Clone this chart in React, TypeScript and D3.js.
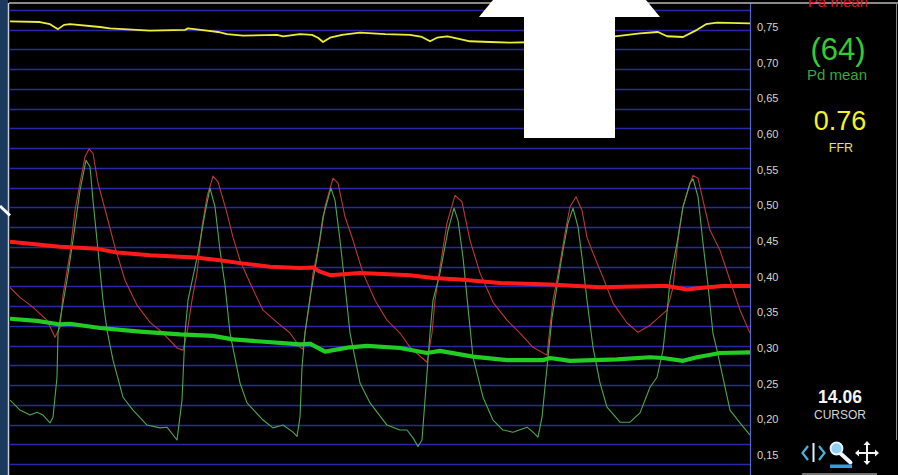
import React, { useEffect, useRef } from "react";
import * as d3 from "d3";

type Pt = [number, number];

// right-hand ratio axis
const ratioTicks = [0.15, 0.2, 0.25, 0.3, 0.35, 0.4, 0.45, 0.5, 0.55, 0.6, 0.65, 0.7, 0.75];
// background grid, one line per 10 mmHg
const gridMmHg = [0, 10, 20, 30, 40, 50, 60, 70, 80, 90, 100, 110, 120, 130, 140, 150, 160, 170, 180, 190, 200, 210, 220, 230];

// [time s, value on ratio axis]
const ffrTrace: Pt[] = [
  [0, 0.758], [0.3, 0.757], [0.4, 0.754], [0.48, 0.747], [0.54, 0.753], [0.6, 0.754],
  [0.9, 0.75], [1.0, 0.748], [1.4, 0.745], [1.75, 0.746], [1.78, 0.748], [1.97, 0.745],
  [2.08, 0.743], [2.17, 0.74], [2.33, 0.738], [2.67, 0.739], [2.73, 0.737], [2.9, 0.74],
  [3.02, 0.739], [3.08, 0.735], [3.13, 0.729], [3.2, 0.735], [3.32, 0.739], [3.5, 0.742],
  [3.75, 0.74], [4.0, 0.739], [4.12, 0.736], [4.2, 0.73], [4.27, 0.735], [4.37, 0.737],
  [4.4, 0.736], [4.6, 0.73], [4.8, 0.729], [5.0, 0.728], [5.3, 0.729], [5.7, 0.732],
  [6.05, 0.737], [6.3, 0.741], [6.48, 0.743], [6.57, 0.737], [6.73, 0.736], [6.87, 0.746],
  [6.96, 0.754], [7.07, 0.756], [7.4, 0.755],
];

const paMean: Pt[] = [
  [0, 0.449], [0.5, 0.442], [0.87, 0.439], [1.07, 0.434], [1.4, 0.43], [1.85, 0.427],
  [2.1, 0.423], [2.3, 0.419], [2.6, 0.414], [2.9, 0.412], [3.03, 0.413], [3.1, 0.407],
  [3.2, 0.402], [3.5, 0.405], [4.0, 0.402], [4.23, 0.398], [4.5, 0.396], [4.9, 0.391],
  [5.4, 0.389], [5.9, 0.385], [6.5, 0.387], [6.57, 0.387], [6.77, 0.382], [6.9, 0.384],
  [7.13, 0.387], [7.4, 0.387],
];

const pdMean: Pt[] = [
  [0, 0.341], [0.27, 0.338], [0.5, 0.333], [0.6, 0.334], [0.9, 0.328], [1.3, 0.323],
  [1.7, 0.319], [2.03, 0.317], [2.23, 0.312], [2.9, 0.305], [3.0, 0.306], [3.15, 0.295],
  [3.4, 0.301], [3.57, 0.303], [3.9, 0.3], [4.17, 0.293], [4.3, 0.296], [4.63, 0.288],
  [4.97, 0.283], [5.33, 0.283], [5.4, 0.286], [5.6, 0.282], [6.07, 0.284], [6.4, 0.287],
  [6.53, 0.286], [6.73, 0.282], [6.87, 0.287], [7.1, 0.293], [7.4, 0.294],
];

const paWave: Pt[] = [
  [0, 0.385], [0.1, 0.371], [0.23, 0.357], [0.37, 0.339], [0.45, 0.315], [0.5, 0.329],
  [0.53, 0.374], [0.6, 0.433], [0.65, 0.493], [0.7, 0.531], [0.75, 0.568], [0.79, 0.579],
  [0.83, 0.573], [0.88, 0.531], [0.97, 0.484], [1.05, 0.441], [1.15, 0.395], [1.27, 0.36],
  [1.4, 0.336], [1.53, 0.321], [1.67, 0.3], [1.73, 0.297], [1.77, 0.321], [1.82, 0.367],
  [1.87, 0.405], [1.92, 0.47], [1.97, 0.512], [2.03, 0.541], [2.08, 0.533], [2.17, 0.489],
  [2.23, 0.455], [2.3, 0.423], [2.4, 0.391], [2.53, 0.353], [2.67, 0.336], [2.8, 0.321],
  [2.9, 0.301], [2.93, 0.298], [2.95, 0.321], [3.0, 0.367], [3.03, 0.405], [3.1, 0.451],
  [3.15, 0.498], [3.23, 0.538], [3.28, 0.531], [3.35, 0.484], [3.43, 0.451], [3.53, 0.405],
  [3.65, 0.367], [3.77, 0.339], [3.9, 0.321], [4.0, 0.301], [4.17, 0.28], [4.22, 0.321],
  [4.25, 0.367], [4.3, 0.413], [4.37, 0.475], [4.45, 0.514], [4.52, 0.505], [4.6, 0.451],
  [4.7, 0.405], [4.83, 0.364], [4.97, 0.339], [5.1, 0.321], [5.23, 0.301], [5.37, 0.29],
  [5.4, 0.329], [5.43, 0.367], [5.46, 0.388], [5.5, 0.419], [5.55, 0.461], [5.6, 0.498],
  [5.66, 0.512], [5.72, 0.493], [5.77, 0.455], [5.83, 0.433], [5.93, 0.399], [6.03, 0.363],
  [6.17, 0.335], [6.28, 0.322], [6.4, 0.332], [6.57, 0.353], [6.63, 0.385], [6.68, 0.451],
  [6.73, 0.498], [6.8, 0.531], [6.83, 0.542], [6.88, 0.538], [6.93, 0.507], [7.0, 0.465],
  [7.1, 0.437], [7.2, 0.395], [7.3, 0.353], [7.4, 0.321],
];

const pdWave: Pt[] = [
  [0, 0.227], [0.1, 0.213], [0.2, 0.206], [0.27, 0.21], [0.33, 0.206], [0.4, 0.195],
  [0.43, 0.203], [0.47, 0.259], [0.48, 0.321], [0.5, 0.339], [0.57, 0.395], [0.63, 0.451],
  [0.7, 0.521], [0.76, 0.563], [0.8, 0.554], [0.83, 0.507], [0.88, 0.437], [0.93, 0.367],
  [0.97, 0.325], [1.03, 0.283], [1.13, 0.231], [1.23, 0.213], [1.37, 0.192], [1.5, 0.188],
  [1.57, 0.189], [1.67, 0.171], [1.72, 0.227], [1.75, 0.321], [1.78, 0.367], [1.88, 0.433],
  [1.95, 0.489], [2.0, 0.524], [2.05, 0.498], [2.1, 0.437], [2.15, 0.388], [2.2, 0.321],
  [2.3, 0.251], [2.37, 0.223], [2.53, 0.199], [2.63, 0.188], [2.73, 0.192], [2.83, 0.182],
  [2.87, 0.176], [2.9, 0.203], [2.92, 0.273], [2.95, 0.321], [3.0, 0.371], [3.07, 0.427],
  [3.13, 0.484], [3.21, 0.524], [3.25, 0.507], [3.3, 0.451], [3.35, 0.388], [3.4, 0.321],
  [3.5, 0.251], [3.6, 0.223], [3.77, 0.192], [3.9, 0.185], [3.97, 0.185], [4.03, 0.174],
  [4.08, 0.162], [4.12, 0.171], [4.15, 0.227], [4.2, 0.321], [4.23, 0.367], [4.3, 0.405],
  [4.38, 0.465], [4.44, 0.496], [4.48, 0.479], [4.53, 0.427], [4.58, 0.357], [4.63, 0.287],
  [4.73, 0.231], [4.83, 0.199], [4.93, 0.185], [5.03, 0.182], [5.17, 0.189], [5.23, 0.182],
  [5.28, 0.175], [5.32, 0.203], [5.37, 0.273], [5.42, 0.343], [5.48, 0.395], [5.53, 0.437],
  [5.58, 0.475], [5.63, 0.496], [5.68, 0.47], [5.72, 0.427], [5.77, 0.367], [5.83, 0.301],
  [5.9, 0.251], [5.97, 0.217], [6.1, 0.196], [6.2, 0.196], [6.3, 0.209], [6.4, 0.245],
  [6.47, 0.259], [6.53, 0.297], [6.57, 0.349], [6.6, 0.395], [6.67, 0.447], [6.73, 0.498],
  [6.8, 0.531], [6.83, 0.537], [6.88, 0.512], [6.93, 0.447], [6.98, 0.388], [7.03, 0.32],
  [7.07, 0.297], [7.2, 0.213], [7.3, 0.195], [7.4, 0.178],
];

const paLabel = "Pa mean";
const pdValue = "(64)";
const pdLabel = "Pd mean";
const ffrValue = "0.76";
const ffrLabel = "FFR";
const cursorValue = "14.06";
const cursorLabel = "CURSOR";

const FONT = "'Liberation Sans', Arial, sans-serif";

export default function App() {
  const ref = useRef<SVGSVGElement>(null);
  const width = 898;
  const height = 475;

  useEffect(() => {
    const plot = { left: 10, right: 750, top: 3, bottom: height };
    const svg = d3.select(ref.current).attr("width", width).attr("height", height);
    svg.selectAll("*").remove();

    const x = d3.scaleLinear().domain([0, 7.4]).range([plot.left, plot.right]);
    const y = d3.scaleLinear().domain([0.15, 0.75]).range([455, 27]);
    const yGrid = d3.scaleLinear().domain([0, 230]).range([464, 10]);

    svg.append("rect").attr("width", width).attr("height", height).attr("fill", "#000");

    // left side strip
    svg.append("rect").attr("x", 0).attr("y", 0).attr("width", 8).attr("height", height).attr("fill", "#1b3a5e");
    svg.append("line").attr("x1", 8.5).attr("x2", 8.5).attr("y1", 3).attr("y2", height)
      .attr("stroke", "#c8ccd4").attr("stroke-width", 1.5);

    // grid
    svg.append("g")
      .selectAll("line")
      .data(gridMmHg)
      .join("line")
      .attr("x1", plot.left)
      .attr("x2", plot.right)
      .attr("y1", (d) => Math.round(yGrid(d)) + 0.5)
      .attr("y2", (d) => Math.round(yGrid(d)) + 0.5)
      .attr("stroke", "#2828a8")
      .attr("stroke-width", 1.3);

    // right axis line
    svg.append("line").attr("x1", 750.5).attr("x2", 750.5).attr("y1", 3).attr("y2", height)
      .attr("stroke", "#5566c8").attr("stroke-width", 1.2);

    // top border
    svg.append("line").attr("x1", 9).attr("x2", width).attr("y1", 3).attr("y2", 3)
      .attr("stroke", "#b8b8b8").attr("stroke-width", 1.5);

    svg.append("clipPath").attr("id", "plotclip")
      .append("rect").attr("x", plot.left).attr("y", plot.top)
      .attr("width", plot.right - plot.left).attr("height", plot.bottom - plot.top);

    const line = d3.line<Pt>().x((d) => x(d[0])).y((d) => y(d[1]));
    const traces = svg.append("g").attr("clip-path", "url(#plotclip)");
    const draw = (data: Pt[], color: string, w: number) =>
      traces.append("path").datum(data).attr("d", line).attr("fill", "none")
        .attr("stroke", color).attr("stroke-width", w).attr("stroke-linejoin", "round");

    draw(paWave, "#b83a34", 1.1);
    draw(pdWave, "#4fa64f", 1.1);
    draw(paMean, "#ff1a1a", 4);
    draw(pdMean, "#22cc22", 4.2);
    draw(ffrTrace, "#ecec3a", 1.8);

    // ratio axis labels
    svg.append("g")
      .selectAll("text")
      .data(ratioTicks)
      .join("text")
      .attr("x", 757)
      .attr("y", (d) => y(d) + 4)
      .attr("font-family", FONT)
      .attr("font-size", 11)
      .attr("fill", "#d6d6c4")
      .text((d) => d3.format(".2f")(d).replace(".", ","));

    // readout panel
    const txt = (s: string, cx: number, by: number, size: number, color: string, weight = "normal") =>
      svg.append("text").attr("x", cx).attr("y", by).attr("text-anchor", "middle")
        .attr("font-family", FONT).attr("font-size", size).attr("font-weight", weight)
        .attr("fill", color).text(s);

    txt(paLabel, 838, 7, 15, "#d42020");
    txt(pdValue, 838, 59.5, 31, "#33cc33");
    txt(pdLabel, 837, 80, 15, "#3aa83a");
    txt(ffrValue, 840, 130, 27, "#f2f22a");
    txt(ffrLabel, 841, 152, 12.5, "#e8e840");
    txt(cursorValue, 840, 403, 17.5, "#f4f4f4", "bold");
    txt(cursorLabel, 840, 419, 12, "#d4d4d4");

    svg.append("line").attr("x1", 896.5).attr("x2", 896.5).attr("y1", 3).attr("y2", 440)
      .attr("stroke", "#8a8a8a").attr("stroke-width", 1);
    svg.append("line").attr("x1", 802).attr("x2", 877).attr("y1", 474).attr("y2", 474)
      .attr("stroke", "#9a9a9a").attr("stroke-width", 1.5);

    // cursor tools
    const tools = svg.append("g");
    tools.append("path").attr("d", "M808,446 L802.5,453 L808,460").attr("fill", "none")
      .attr("stroke", "#4fb0d8").attr("stroke-width", 2.2);
    tools.append("path").attr("d", "M819,446 L824.5,453 L819,460").attr("fill", "none")
      .attr("stroke", "#4fb0d8").attr("stroke-width", 2.2);
    tools.append("line").attr("x1", 813.5).attr("x2", 813.5).attr("y1", 443).attr("y2", 462)
      .attr("stroke", "#dff2fb").attr("stroke-width", 2);
    tools.append("line").attr("x1", 840).attr("x2", 850.5).attr("y1", 453).attr("y2", 462.5)
      .attr("stroke", "#f0f8ff").attr("stroke-width", 4).attr("stroke-linecap", "round");
    tools.append("circle").attr("cx", 836.5).attr("cy", 448.5).attr("r", 6)
      .attr("fill", "#8fd0f4").attr("stroke", "#eaf6ff").attr("stroke-width", 1.8);
    tools.append("rect").attr("x", 830).attr("y", 464.5).attr("width", 22).attr("height", 3.5)
      .attr("fill", "#3a9ad9");
    const cx = 867, cy = 453;
    tools.append("path")
      .attr("d", `M${cx - 10},${cy} H${cx + 10} M${cx},${cy - 10} V${cx - cx + cy + 10}`)
      .attr("stroke", "#f4f4f4").attr("stroke-width", 2);
    tools.append("path")
      .attr("d",
        `M${cx - 12},${cy} l4,-3.5 v7 z M${cx + 12},${cy} l-4,-3.5 v7 z ` +
        `M${cx},${cy - 12} l-3.5,4 h7 z M${cx},${cy + 12} l-3.5,-4 h7 z`)
      .attr("fill", "#f4f4f4");

    // overlay annotations
    svg.append("polygon")
      .attr("points", "479,17 569.5,-93 660,17")
      .attr("fill", "#fff");
    svg.append("rect").attr("x", 524).attr("y", 16).attr("width", 91).attr("height", 122)
      .attr("fill", "#fff");
    svg.append("line").attr("x1", 0).attr("y1", 206).attr("x2", 10).attr("y2", 215.5)
      .attr("stroke", "#fff").attr("stroke-width", 3);
  }, []);

  return <svg ref={ref} style={{ position: "fixed", left: 0, top: 0, display: "block" }} />;
}
